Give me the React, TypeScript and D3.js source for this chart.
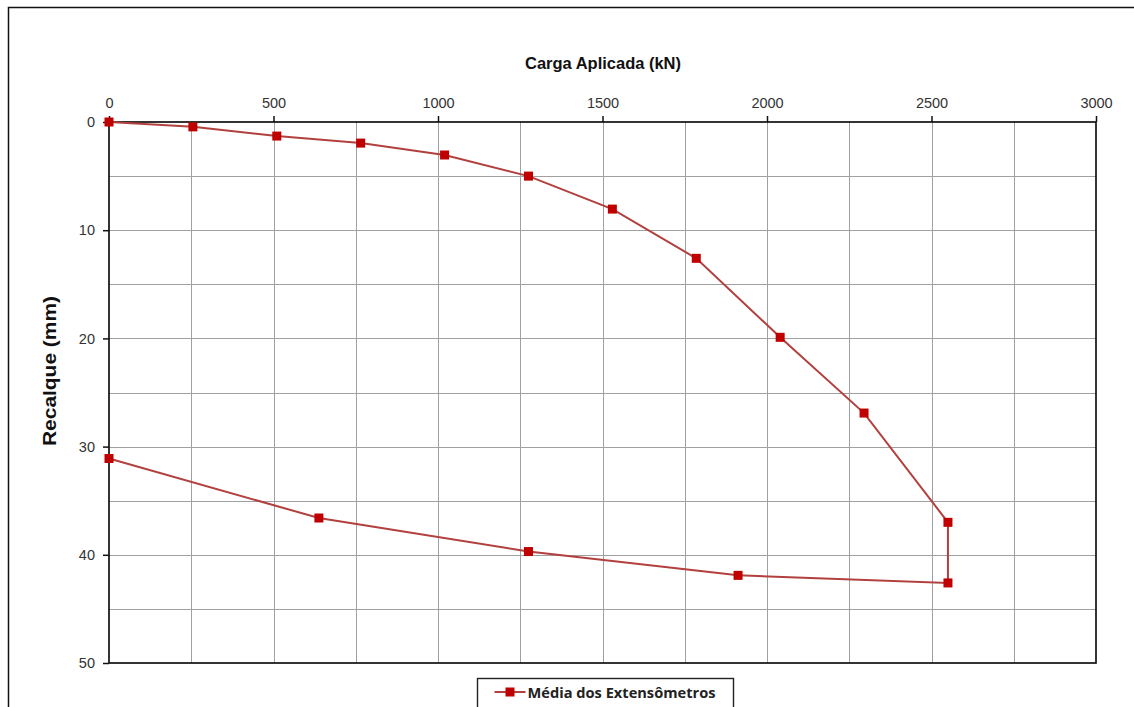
import React, { useEffect, useRef } from 'react';
import * as d3 from 'd3';

// load steps (kN) and settlement (mm), loading then unloading
const cargas = [0, 255, 510, 765, 1020, 1275, 1530, 1785, 2040, 2295, 2550, 2550, 1912, 1275, 638, 0];
const recalques = [0, 0.45, 1.3, 1.95, 3.05, 5.0, 8.05, 12.6, 19.9, 26.9, 37.0, 42.6, 41.9, 39.7, 36.6, 31.1];
const xTicks = [0, 500, 1000, 1500, 2000, 2500, 3000];
const yTicks = [0, 10, 20, 30, 40, 50];
const serieNome = 'Média dos Extensômetros';

const W = 1134;
const H = 707;
const left = 109;
const right = 1096;
const top = 122;
const bottom = 663;
const font = 'Liberation Sans, Arial, sans-serif';

export default function App() {
  const ref = useRef<SVGSVGElement>(null);

  useEffect(() => {
    const svg = d3.select(ref.current);
    svg.selectAll('*').remove();

    const x = d3.scaleLinear().domain([0, 3000]).range([left, right]);
    const y = d3.scaleLinear().domain([0, 50]).range([top, bottom]);

    svg.append('rect')
      .attr('width', W).attr('height', H).attr('fill', '#fff');

    // outer frame
    svg.append('rect')
      .attr('x', 8.5).attr('y', 7.5)
      .attr('width', W + 20).attr('height', H + 20)
      .attr('fill', 'none').attr('stroke', '#111').attr('stroke-width', 1.5);

    // grid
    const grid = svg.append('g').attr('stroke', '#a0a0a0').attr('stroke-width', 1);
    grid.selectAll('line.v')
      .data(d3.range(250, 3000, 250))
      .join('line')
      .attr('x1', (d) => Math.round(x(d)) + 0.5).attr('x2', (d) => Math.round(x(d)) + 0.5)
      .attr('y1', top).attr('y2', bottom);
    grid.selectAll('line.h')
      .data(d3.range(5, 50, 5))
      .join('line')
      .attr('y1', (d) => Math.round(y(d)) + 0.5).attr('y2', (d) => Math.round(y(d)) + 0.5)
      .attr('x1', left).attr('x2', right);

    // plot frame
    svg.append('rect')
      .attr('x', left).attr('y', top)
      .attr('width', right - left).attr('height', bottom - top)
      .attr('fill', 'none').attr('stroke', '#111').attr('stroke-width', 1.7);

    // top axis
    const xAxis = svg.append('g')
      .attr('transform', `translate(0,${top})`)
      .call(d3.axisTop(x).tickValues(xTicks).tickFormat(d3.format('d')).tickSize(6).tickPadding(8));
    xAxis.select('.domain').remove();
    xAxis.selectAll('line').attr('stroke', '#111').attr('stroke-width', 1.5);
    xAxis.selectAll('text')
      .attr('font-family', font)
      .attr('font-size', 14.5).attr('fill', '#333');

    // left axis
    const yAxis = svg.append('g')
      .attr('transform', `translate(${left},0)`)
      .call(d3.axisLeft(y).tickValues(yTicks).tickFormat(d3.format('d')).tickSize(6).tickPadding(8));
    yAxis.select('.domain').remove();
    yAxis.selectAll('line').attr('stroke', '#111').attr('stroke-width', 1.5);
    yAxis.selectAll('text')
      .attr('font-family', font)
      .attr('font-size', 14.5).attr('fill', '#333');

    // titles
    svg.append('text')
      .attr('x', 603).attr('y', 69)
      .attr('text-anchor', 'middle')
      .attr('font-family', font)
      .attr('font-weight', 'bold').attr('font-size', 17).attr('fill', '#111')
      .attr('textLength', 156).attr('lengthAdjust', 'spacingAndGlyphs')
      .text('Carga Aplicada (kN)');

    svg.append('text')
      .attr('transform', `translate(56,371) rotate(-90)`)
      .attr('text-anchor', 'middle')
      .attr('font-family', font)
      .attr('font-weight', 'bold').attr('font-size', 18).attr('fill', '#111')
      .attr('textLength', 150).attr('lengthAdjust', 'spacingAndGlyphs')
      .text('Recalque (mm)');

    // series
    const pts = cargas.map((c, i) => [c, recalques[i]] as [number, number]);
    const line = d3.line<[number, number]>().x((d) => x(d[0])).y((d) => y(d[1]));
    svg.append('path')
      .datum(pts)
      .attr('d', line)
      .attr('fill', 'none').attr('stroke', '#b2403e').attr('stroke-width', 2);

    svg.append('g')
      .selectAll('rect')
      .data(pts)
      .join('rect')
      .attr('x', (d) => x(d[0]) - 4.5).attr('y', (d) => y(d[1]) - 4.5)
      .attr('width', 9).attr('height', 9)
      .attr('fill', '#c00000');

    // legend
    const lg = svg.append('g').attr('transform', 'translate(477.5,678.5)');
    lg.append('rect')
      .attr('width', 256).attr('height', 34)
      .attr('fill', '#fff').attr('stroke', '#222').attr('stroke-width', 1.4);
    lg.append('line')
      .attr('x1', 17).attr('x2', 48).attr('y1', 13.5).attr('y2', 13.5)
      .attr('stroke', '#b2403e').attr('stroke-width', 2);
    lg.append('rect')
      .attr('x', 28).attr('y', 9).attr('width', 9).attr('height', 9)
      .attr('fill', '#c00000');
    lg.append('text')
      .attr('x', 50).attr('y', 19.5)
      .attr('font-family', 'Open Sans, sans-serif')
      .attr('font-weight', 'bold').attr('font-size', 14).attr('fill', '#222')
      .attr('textLength', 188).attr('lengthAdjust', 'spacingAndGlyphs')
      .text(serieNome);
  }, []);

  return (
    <svg ref={ref} width={W} height={H}
      style={{ position: 'absolute', left: 0, top: 0, display: 'block' }} />
  );
}
